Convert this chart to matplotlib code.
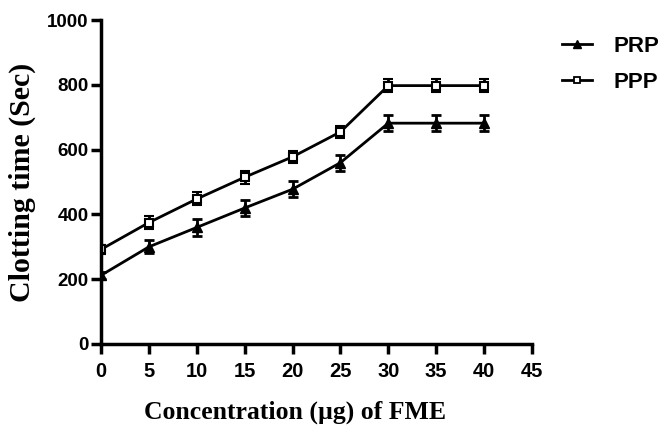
import matplotlib
matplotlib.use("Agg")
import matplotlib.pyplot as plt
from matplotlib.lines import Line2D

conc = [0, 5, 10, 15, 20, 25, 30, 35, 40]
prp = [212, 300, 360, 420, 478, 560, 682, 682, 682]
prp_err = [10, 20, 25, 25, 25, 25, 25, 25, 25]
ppp = [292, 375, 448, 515, 578, 655, 798, 798, 798]
ppp_err = [15, 20, 20, 20, 18, 18, 20, 20, 20]
xticks = [0, 5, 10, 15, 20, 25, 30, 35, 40, 45]
yticks = [0, 200, 400, 600, 800, 1000]

fig = plt.figure(figsize=(6.6, 4.3), dpi=100)
ax = fig.add_axes([0.153, 0.2, 0.653, 0.753])

ax.errorbar(conc, prp, yerr=prp_err, color="black", marker="^", markersize=7,
            linewidth=2, elinewidth=2, capsize=3.8, capthick=2)
ax.errorbar(conc, ppp, yerr=ppp_err, color="black", marker="s", markersize=6,
            markerfacecolor="white", markeredgewidth=1.5,
            linewidth=2, elinewidth=2, capsize=3.8, capthick=2)

ax.set_xlim(0, 45)
ax.set_ylim(0, 1000)
ax.set_xticks(xticks)
ax.set_yticks(yticks)
for s in ["top", "right"]:
    ax.spines[s].set_visible(False)
for s in ["left", "bottom"]:
    ax.spines[s].set_linewidth(2.5)
ax.tick_params(direction="out", length=7, width=2.5)
ax.tick_params(axis="x", pad=6)
ax.tick_params(axis="y", pad=2)
for lab in ax.get_xticklabels():
    lab.set_fontfamily("Liberation Sans")
    lab.set_fontweight("bold")
    lab.set_fontsize(14.5)
for lab in ax.get_yticklabels():
    lab.set_fontfamily("Liberation Sans")
    lab.set_fontweight("bold")
    lab.set_fontsize(13.5)

ax.set_xlabel("Concentration (µg) of FME", fontfamily="Liberation Serif",
              fontweight="bold", fontsize=18.5)
ax.xaxis.set_label_coords(0.45, -0.175)
ax.xaxis.label.set_va("top")
ax.set_ylabel("Clotting time (Sec)", fontfamily="Liberation Serif",
              fontweight="bold", fontsize=21.5, labelpad=8)

handles = [
    Line2D([], [], color="black", marker="^", markersize=6, linewidth=2),
    Line2D([], [], color="black", marker="s", markersize=5, markerfacecolor="white",
           markeredgewidth=1.3, linewidth=2),
]
labels = ["PRP", "PPP"]
fig.legend(handles, labels, loc="upper left", bbox_to_anchor=(0.8515, 0.917),
           frameon=False, borderpad=0, borderaxespad=0,
           handlelength=1.36, handletextpad=0.95, labelspacing=0.67,
           prop={"family": "Liberation Sans", "weight": "bold", "size": 16})

fig.savefig("out.png", dpi=100)
